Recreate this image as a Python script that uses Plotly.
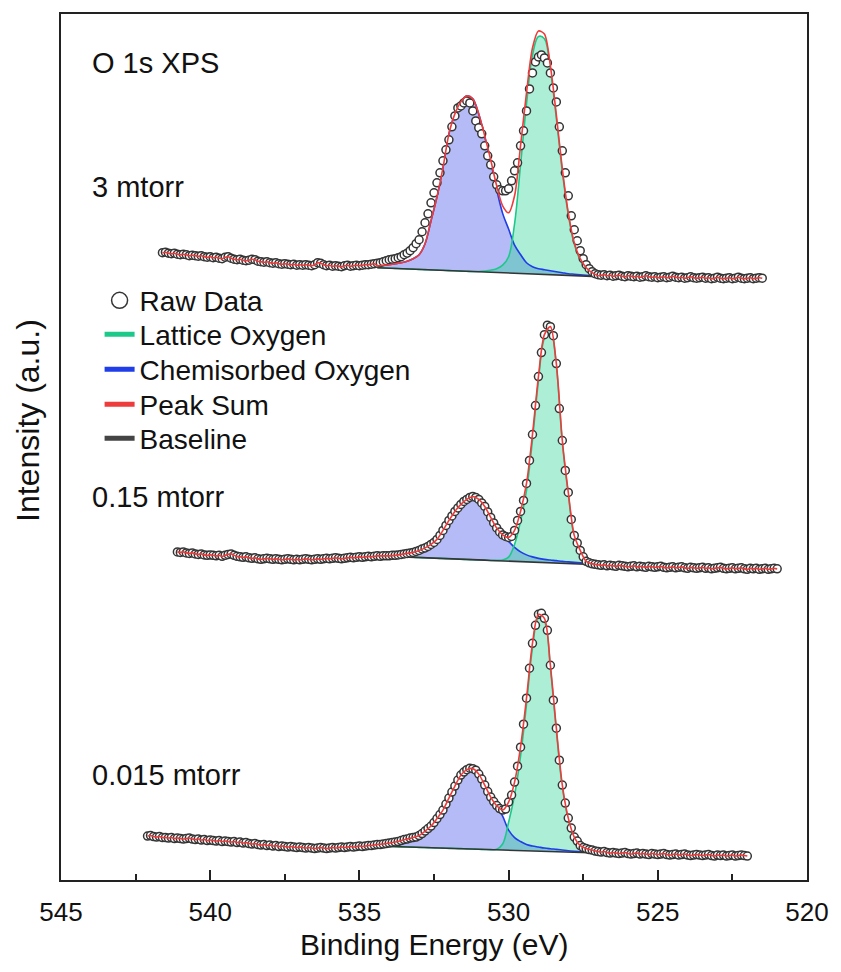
import numpy as np
import plotly.graph_objects as go

# ---------------- data (binding energy in eV, intensity in arbitrary units) ----------------
# raw data in three segments per spectrum (0.1 eV step)
raw_top_left_start = 541.6
raw_top_left = [628,628.5,627.5,627,627.5,626.5,626,626.5,626,625,
                625.5,625,624.5,625,624,623.5,624,623,623.5,622.5,
                622,623.5,624,622.5,621.5,621,621.5,620.5,620,620.5,
                621.5,621,619.5,619,618.5,619,618,617.5,618,617,
                616.5,617,616.5,616,616.5,615.5,616,615.5,616,615.5,
                615,616,618,617.5,616,615,615.5,614.5,615,614.5,
                614,615,615.5,614.5,615,615.5,615,615.5,616,616,
                616.5,617,617.5]
raw_top_peak_start = 534.3
raw_top_peak = [618,619,620,621,621.5,622,623,624,626,627.5,
                630,633,637,641,649,658,667,678,688,698,
                708,720,731,741,754,765,773,775,778,780,
                778,770,760,753,747,735,725,716,704,696,
                691,690,690,692,700,710,718,735,750,770,
                792,808,819,824,826,823,818,808,793,779,
                754,730,708,685,665,651,640,630,622,616,
                612,609,607]
raw_top_right_start = 527.0
raw_top_right = [606,605.5,606,605,605.5,604.5,605,605.5,604.5,604,
                 605,604.5,604,604.5,603.5,604,605,604,603.5,604,
                 603,603.5,604,603,603.5,604.5,603.5,603,603.5,602.5,
                 603,604,603,602.5,603,603.5,602.5,603,602,602.5,
                 603.5,602.5,602,602.5,603,602,602.5,603.5,602.5,602,
                 602.5,603,602,602.5,603,602.5]

raw_mid_left_start = 541.1
raw_mid_left = [328.5,328,328.5,327.5,327,327.5,326.5,326,326.5,325.5,
                325,325.5,325,324.5,325,324,325,326,326.5,325,
                324,323.5,323,323.5,322.5,322,322.5,321.5,321,321.5,
                322,321.5,321,321.5,321,320.5,321,321.5,321,320.5,
                321,320.5,321,321.5,321,320.5,321,321.5,321,321.5,
                322,321.5,322,322.5,322,321.5,322,322.5,323,322.5,
                323,323.5,323,323.5,324,323.5,324,324.5,324,324.5,
                324.5]
raw_mid_peak_start = 534.0
raw_mid_peak = [324.5,325,325,325.5,326,326.5,327,327.5,328,329,
                330,331.5,332.5,334,336,338,341,345,350,355,
                360,364.5,369,372.5,376,379,381,383,384,383,
                381,377.5,374,368.5,363,357.5,352.5,348.5,345.5,344,
                343,344,350,360,369,380,397,420,446,475,
                504,528,546,555.5,554,545,517,472,440,410,
                388,361,345,337.5,330,323.5,319,317.5,316.5,316,
                315.5]
raw_mid_right_start = 526.9
raw_mid_right = [315,315.5,314.5,315,314.5,314,315,314.5,314,313.5,
                 314,314.5,313.5,314,313.5,313,314,313.5,313,313.5,
                 314,313,312.5,313,313.5,312.5,313,313.5,312.5,312,
                 313,312.5,312,312.5,313,312,312.5,311.5,312,312.5,
                 313,312,311.5,312,312.5,311.5,312,312.5,311.5,311,
                 312,311.5,312,311,311.5,312,311,311.5,312,311.5]

raw_bot_left_start = 542.1
raw_bot_left = [44,44.5,43.5,43,43.5,42.5,42.5,42,42.5,41.5,
                42,41.5,41,41.5,42,41,40.5,41,40,40.5,
                39.5,40,39.5,39,39.5,38.5,39,38.5,38,38.5,
                37.5,38,37,37.5,36.5,36,36.5,35.5,35,35.5,
                34.5,35,34,34.5,33.5,34,33.5,33,33.5,33,
                32.5,33,32.5,32,32.5,32,31.5,32,32.5,32,
                31.5,32,32.5,32,32.5,33,32.5,33,33.5,33,
                33.5,34,33.5,34,34.5,34.5,35,35.5,35.5,36,
                36.5]
raw_bot_peak_start = 534.0
raw_bot_peak = [37,37.5,38,38.5,39.5,40.5,41,42,42.5,43,
                44.5,46.5,49,51.5,54,57.5,61.5,65.5,70,76,
                82,88,94,100,105,108,110.5,112,111.5,110,
                106,101,95,88.5,83,78.5,74.5,71.5,70,71,
                78,85,98,114,133,156,182,212,237,255,
                266,267,262,250,215,180,152,120,95,77,
                62,52,43,39,34.5,32.5,31.5,30.5,30,29,
                28.5]
raw_bot_right_start = 526.9
raw_bot_right = [28,28.5,27.5,27,27.5,27,26.5,27,27.5,26.5,
                 26,26.5,27,26,26.5,26,25.5,26.5,26,25.5,
                 26,26.5,25.5,25,25.5,26,25,25.5,26,25,
                 24.5,25,25.5,25,24.5,25,25.5,24.5,24,25,
                 24.5,25,24,24.5,25,24,24.5,25,24.5,24]

# fitted curves on a 0.2 eV grid from 534.4 to 527.0 eV
fit_start, fit_step, fit_n = 534.4, 0.2, 38

base_top = [613.0,612.8,612.5,612.3,612.0,611.8,611.6,611.3,611.1,610.8,
            610.6,610.4,610.1,609.9,609.6,609.4,609.1,608.9,608.7,608.4,
            608.2,607.9,607.7,607.5,607.2,607.0,606.7,606.5,606.3,606.0,
            605.8,605.5,605.3,605.1,604.8,604.6,604.3,604.1]
chem_top = [615,615.5,616,617,618,619.5,622,626,637,660,
            684,713,747,767,779,785,782,766.7,744,718.9,
            691.2,667.4,651.7,635.5,626.2,618,614,612,611,610,
            609,608,607,606.5,606,605.5,605,604.5]
lat_top = [613.0,612.8,612.5,612.3,612.0,611.8,611.6,611.3,611.1,610.8,
           610.6,610.4,610.1,609.9,609.6,609.4,609.2,609.2,609.7,610.5,
           612,615.5,624,657,716,777,825.7,844.5,842.3,811,
           762.8,709.5,666.3,636.6,620.8,612.1,607.3,604.6]
sum_top = [615,615.5,616,617,618,619.5,622,626,637,660,
           684,713,747,767,779,785,782,767,745,721,
           695,675,668,685,735,788,833,850,847,815,
           766,712,668,638,622,613,608,605]

base_mid = [324.5,324.3,324.0,323.8,323.5,323.3,323.1,322.8,322.6,322.3,
            322.1,321.9,321.6,321.4,321.1,320.9,320.6,320.4,320.2,319.9,
            319.7,319.4,319.2,319.0,318.7,318.5,318.2,318.0,317.8,317.5,
            317.3,317.0,316.8,316.6,316.3,316.1,315.8,315.6]
chem_mid = [324.5,324.5,324.5,325,326,327,328,330,332.5,336,
            341,350,360,369,376,381,384,381,374,363,
            351.5,345,339,333,328.5,325.5,323.5,322,321,320.3,
            319.7,319,318.5,318,317.5,317,316.6,316]
lat_mid = [324.5,324.3,324.0,323.8,323.5,323.3,323.1,322.8,322.6,322.3,
           322.1,321.9,321.6,321.4,321.1,320.9,320.6,320.4,320.2,319.9,
           320.0,320.3,323.2,336,359.2,390,440.7,500,542.8,551.2,
           514.6,438,386.3,343.6,328.8,318.1,316,315.6]
sum_mid = [324.5,324.5,324.5,325,326,327,328,330,332.5,336,
           341,350,360,369,376,381,384,381,374,363,
           352.5,345.5,343,350,369,397,446,504,546,554,
           517,440,388,345,330,319,316.5,315.5]

base_bot = [34.0,33.8,33.6,33.4,33.2,33.1,32.9,32.7,32.5,32.3,
            32.1,31.9,31.7,31.5,31.4,31.2,31.0,30.8,30.6,30.4,
            30.2,30.0,29.8,29.6,29.4,29.3,29.1,28.9,28.7,28.5,
            28.3,28.1,27.9,27.7,27.6,27.4,27.2,27.0]
chem_bot = [35.5,36,37,38,39.5,41,42.5,44.5,49,54,
            61.5,70,82,94,105,110.5,111.5,106,95,83,
            74,64,50,42.5,38.5,35.5,34,33,32,31.3,
            30.7,30,29.3,28.8,28.4,28,27.6,27.2]
lat_bot = [34.0,33.8,33.6,33.4,33.2,33.1,32.9,32.7,32.5,32.3,
           32.1,31.9,31.7,31.5,31.4,31.2,31.0,30.8,30.6,30.4,
           30.7,36,57.8,85.1,123.9,175.8,232.1,261.9,258.7,212.2,
           149.6,93.1,60.6,41.9,33.7,30.9,29.6,28.3]
sum_bot = [35.5,36,37,38,39.5,41,42.5,44.5,49,54,
           61.5,70,82,94,105,110.5,111.5,106,95,83,
           74.5,70,78,98,133,182,237,266,262,215,
           152,95,62,43,34.5,31.5,30,28.5]

spectrum_labels = ["3 mtorr", "0.15 mtorr", "0.015 mtorr"]
legend_names = ["Raw Data", "Lattice Oxygen", "Chemisorbed Oxygen", "Peak Sum", "Baseline"]
x_ticks = [545, 540, 535, 530, 525, 520]
x_minor = [542.5, 537.5, 532.5, 527.5, 522.5]

# ---------------- styles ----------------
FONT = "Liberation Sans, Arial, Helvetica, sans-serif"
GREEN = "#1cc98a"
BLUE = "#1f3de8"
RED = "#ee3b3b"
DARK = "#353535"
BLUE_FILL = "rgba(90,105,235,0.45)"
GREEN_FILL = "rgba(40,210,150,0.38)"


def seg(start, vals, step=0.1):
    return np.round(start - step * np.arange(len(vals)), 2)


E_fit = np.round(fit_start - fit_step * np.arange(fit_n), 2)

fig = go.Figure()


def add_spectrum(rl_s, rl, rp_s, rp, rr_s, rr, base, chem, lat, tot):
    xl, xp, xr = seg(rl_s, rl), seg(rp_s, rp), seg(rr_s, rr)
    raw_x = np.concatenate([xl, xp, xr])
    raw_y = np.concatenate([rl, rp, rr])
    common = dict(hoverinfo="skip", showlegend=False)
    # fills (baseline -> component)
    for comp, fc in ((chem, BLUE_FILL), (lat, GREEN_FILL)):
        fig.add_trace(go.Scatter(x=E_fit, y=base, mode="lines",
                                 line=dict(width=0, color=fc), **common))
        fig.add_trace(go.Scatter(x=E_fit, y=comp, mode="lines", fill="tonexty",
                                 fillcolor=fc, line=dict(width=0, shape="spline", color=fc),
                                 **common))
    # component lines
    fig.add_trace(go.Scatter(x=E_fit, y=chem, mode="lines",
                             line=dict(color=BLUE, width=1.6, shape="spline"), **common))
    fig.add_trace(go.Scatter(x=E_fit, y=lat, mode="lines",
                             line=dict(color=GREEN, width=1.6, shape="spline"), **common))
    fig.add_trace(go.Scatter(x=E_fit, y=base, mode="lines",
                             line=dict(color=DARK, width=1.6), **common))
    # raw data
    fig.add_trace(go.Scatter(x=raw_x, y=raw_y, mode="markers",
                             marker=dict(symbol="circle", size=8, color="white",
                                         line=dict(color=DARK, width=1.5)), **common))
    # peak sum: follows the data outside the fitted window
    ml = xl > E_fit[0] + 1e-6
    mr = xr < E_fit[-1] - 1e-6
    sx = np.concatenate([xl[ml], E_fit, xr[mr]])
    sy = np.concatenate([np.array(rl)[ml], tot, np.array(rr)[mr]])
    fig.add_trace(go.Scatter(x=sx, y=sy, mode="lines",
                             line=dict(color=RED, width=1.6, shape="spline", smoothing=0.8),
                             **common))


add_spectrum(raw_top_left_start, raw_top_left, raw_top_peak_start, raw_top_peak,
             raw_top_right_start, raw_top_right, base_top, chem_top, lat_top, sum_top)
add_spectrum(raw_mid_left_start, raw_mid_left, raw_mid_peak_start, raw_mid_peak,
             raw_mid_right_start, raw_mid_right, base_mid, chem_mid, lat_mid, sum_mid)
add_spectrum(raw_bot_left_start, raw_bot_left, raw_bot_peak_start, raw_bot_peak,
             raw_bot_right_start, raw_bot_right, base_bot, chem_bot, lat_bot, sum_bot)

# ---------------- layout helpers ----------------
L, R, T, B = 61, 26, 13, 92
W, H = 841, 972
pw, ph = W - L - R, H - T - B


def px_x(px):
    return (px - L) / pw


def px_y(py):
    return (H - B - py) / ph


# legend entries: one legend per row so the row spacing matches the reference
legend_ids = ["legend", "legend2", "legend3", "legend4", "legend5"]
legend_rows = [300, 334, 369, 404, 438]
fig.add_trace(go.Scatter(x=[None], y=[None], mode="markers", name=legend_names[0],
                         legend=legend_ids[0], showlegend=True,
                         marker=dict(symbol="circle", size=16, color="white",
                                     line=dict(color=DARK, width=1.5))))
for nm, col, lid in zip(legend_names[1:], [GREEN, BLUE, RED, "#444444"], legend_ids[1:]):
    fig.add_trace(go.Scatter(x=[None], y=[None], mode="lines", name=nm, legend=lid,
                             showlegend=True, line=dict(color=col, width=5)))

legend_layout = {}
for lid, row in zip(legend_ids, legend_rows):
    legend_layout[lid] = dict(x=px_x(100), y=px_y(row), xanchor="left", yanchor="middle",
                              bgcolor="rgba(0,0,0,0)", borderwidth=0,
                              font=dict(size=28, family=FONT, color="#111"),
                              itemsizing="trace")

annos = [
    dict(text="O 1s XPS", x=px_x(90), y=px_y(62)),
    dict(text=spectrum_labels[0], x=px_x(90), y=px_y(186)),
    dict(text=spectrum_labels[1], x=px_x(90), y=px_y(497)),
    dict(text=spectrum_labels[2], x=px_x(90), y=px_y(775)),
]
annotations = [dict(xref="paper", yref="paper", xanchor="left", yanchor="middle",
                    showarrow=False, font=dict(size=29, color="#111", family=FONT), **a)
               for a in annos]
annotations.append(dict(text="Intensity (a.u.)", xref="paper", yref="paper",
                        x=px_x(27), y=px_y(420), textangle=-90, showarrow=False,
                        xanchor="center", yanchor="middle",
                        font=dict(size=32, color="#111", family=FONT)))
annotations.append(dict(text="Binding Energy (eV)", xref="paper", yref="paper",
                        x=0.5, y=px_y(945), showarrow=False,
                        xanchor="center", yanchor="middle",
                        font=dict(size=30, color="#111", family=FONT)))

fig.update_layout(
    width=W, height=H,
    margin=dict(l=L, r=R, t=T, b=B),
    paper_bgcolor="white", plot_bgcolor="white",
    font=dict(family=FONT, color="#111"),
    showlegend=True,
    annotations=annotations,
    xaxis=dict(range=[545, 520], tickmode="array", tickvals=x_ticks,
               ticktext=[str(v) for v in x_ticks],
               ticks="inside", ticklen=10, tickwidth=1.5, tickcolor="#222",
               minor=dict(tickmode="array", tickvals=x_minor, ticks="inside",
                          ticklen=6, tickwidth=1.5, tickcolor="#222"),
               showline=True, linecolor="#222", linewidth=1.6, mirror=True,
               showgrid=False, zeroline=False,
               tickfont=dict(size=26, family=FONT, color="#111"),
               ticklabelstandoff=8),
    yaxis=dict(range=[0, ph], showticklabels=False, ticks="",
               showline=True, linecolor="#222", linewidth=1.6, mirror=True,
               showgrid=False, zeroline=False),
    **legend_layout,
)

fig.write_html("out.html")
